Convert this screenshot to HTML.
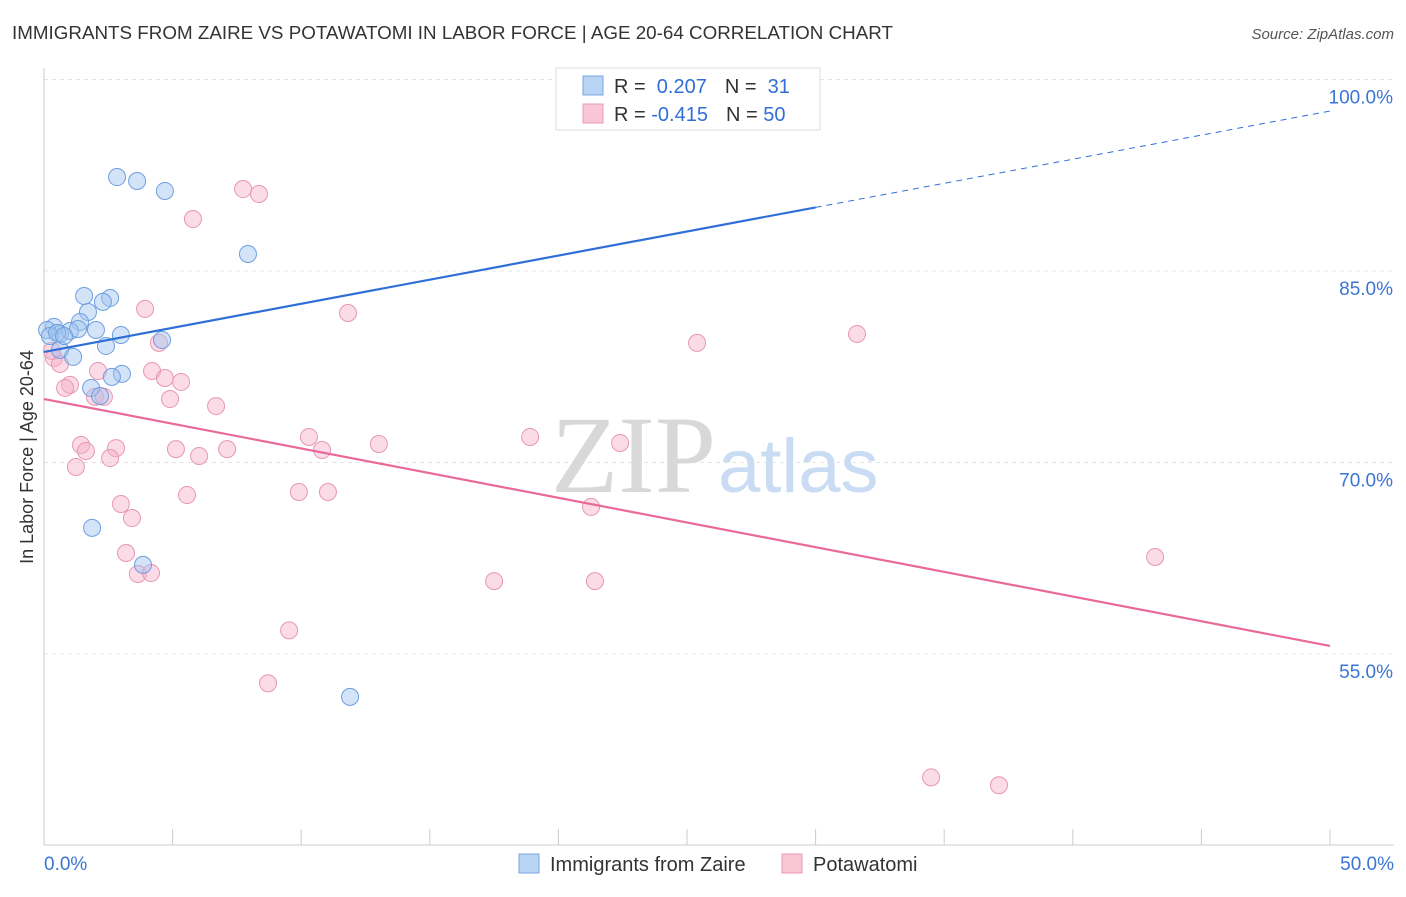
<!DOCTYPE html>
<html><head><meta charset="utf-8"><style>
body{margin:0;background:#fff;font-family:"Liberation Sans",sans-serif;}
svg text{font-family:"Liberation Sans",sans-serif;}
</style></head><body>
<svg width="1406" height="892" viewBox="0 0 1406 892">
<text x="12" y="39" font-size="18" fill="#333" textLength="881" lengthAdjust="spacingAndGlyphs">IMMIGRANTS FROM ZAIRE VS POTAWATOMI IN LABOR FORCE | AGE 20-64 CORRELATION CHART</text>
<text x="1394" y="39" font-size="15" fill="#555" font-style="italic" text-anchor="end">Source: ZipAtlas.com</text>
<g id="grid"></g>
<text x="716" y="492" font-size="110" fill="#d8d8d8" text-anchor="end" style="font-family:'Liberation Serif',serif">ZIP</text>
<text x="718" y="492" font-size="76" fill="#c9dcf3">atlas</text>
<g id="axes"></g>
<g id="marks"></g>
<text x="33" y="457" font-size="18" fill="#333" text-anchor="middle" transform="rotate(-90 33 457)">In Labor Force | Age 20-64</text>
<g>
<rect x="556" y="68" width="264" height="62" fill="#fff" stroke="#ddd"/>
<rect x="583" y="76" width="20" height="19" fill="#b9d3f5" stroke="#7aa6e3"/>
<rect x="583" y="104" width="20" height="19" fill="#f8c6d5" stroke="#eb9ab5"/>
<text x="614" y="93" font-size="20" fill="#333">R = <tspan fill="#2f6fd6">&#160;0.207</tspan><tspan dx="18">N = </tspan><tspan fill="#2f6fd6">&#160;31</tspan></text>
<text x="614" y="121" font-size="20" fill="#333">R = <tspan fill="#2f6fd6">-0.415</tspan><tspan dx="18">N = </tspan><tspan fill="#2f6fd6">50</tspan></text>
</g>
<g>
<rect x="519" y="854" width="20" height="19" fill="#b9d3f5" stroke="#7aa6e3"/>
<text x="550" y="871" font-size="20" fill="#333">Immigrants from Zaire</text>
<rect x="782" y="854" width="20" height="19" fill="#f8c6d5" stroke="#eb9ab5"/>
<text x="813" y="871" font-size="20" fill="#333">Potawatomi</text>
</g>
</svg>
<script>
const blueX=[2.84,3.62,4.70,7.93,1.56,2.57,2.29,1.71,1.40,0.39,0.12,0.62,1.01,1.32,2.02,2.99,4.59,2.41,0.62,1.13,3.03,2.64,1.83,2.18,1.87,3.85,11.90,25.70,0.23,0.51,0.78];
const blueY=[92.36,92.05,91.27,86.33,83.04,82.89,82.58,81.79,81.01,80.62,80.38,80.07,80.30,80.46,80.38,79.99,79.60,79.13,78.82,78.27,76.94,76.71,75.84,75.21,64.88,61.98,51.64,99.8,79.91,80.15,79.91];
const pinkX=[7.74,8.36,5.79,3.93,11.82,31.61,25.39,4.47,0.39,0.62,1.01,0.82,4.20,2.10,4.70,5.33,1.98,2.33,4.90,6.69,1.44,1.63,2.80,5.13,6.03,7.12,2.57,1.24,10.30,10.81,13.02,18.90,22.40,5.56,9.91,11.04,2.99,3.42,21.27,3.19,43.20,3.65,4.16,17.50,21.42,9.53,8.71,34.49,37.13,0.31];
const pinkY=[91.42,91.03,89.07,82.03,81.71,80.07,79.37,79.37,78.19,77.72,76.08,75.84,77.17,77.17,76.62,76.31,75.14,75.14,74.97,74.42,71.37,70.90,71.13,71.05,70.51,71.05,70.35,69.65,72.0,70.98,71.45,72.0,71.53,67.45,67.69,67.69,66.75,65.65,66.52,62.91,62.60,61.27,61.34,60.71,60.71,56.85,52.71,45.34,44.72,78.74];
const blueTrend=[0,78.66,50,97.53];
const pinkTrend=[0,74.97,50,55.63];
const yTicks=[100,85,70,55];
const xTickVals=[0,5,10,15,20,25,30,35,40,45,50];
const NS="http://www.w3.org/2000/svg";
const sx=v=>44+v*1286/50;
const sy=v=>79.5+(100-v)*191.5/15;
function mk(tag,attrs,parent){const e=document.createElementNS(NS,tag);for(const k in attrs)e.setAttribute(k,attrs[k]);parent.appendChild(e);return e;}
const grid=document.getElementById('grid'),axes=document.getElementById('axes'),marks=document.getElementById('marks');
yTicks.forEach(t=>{
 const l=mk('line',{x1:44,x2:1394,y1:sy(t),y2:sy(t),stroke:'#e4e4e4','stroke-dasharray':'4 4'},grid);
 
 
 const tx=mk('text',{x:1393,y:sy(t)+24,'font-size':19,fill:'#3b75d3','text-anchor':'end'},axes);
 tx.textContent=t.toFixed(1)+'%';
 
 
});
mk('line',{x1:44,x2:44,y1:68,y2:845,stroke:'#ccc'},axes);
mk('line',{x1:44,x2:1394,y1:845,y2:845,stroke:'#ccc'},axes);
xTickVals.forEach(t=>{
 const l=mk('line',{x1:sx(t),x2:sx(t),y1:829,y2:845,stroke:'#ccc'},axes);
 
 
});
[[0,'start',44],[50,'end',1394]].forEach(([v,a,x])=>{
 const tx=mk('text',{x:x,y:870,'font-size':19,fill:'#3b75d3','text-anchor':a},axes);
 tx.textContent=v.toFixed(1)+'%';
 
 
});
pinkX.forEach((x,i)=>{
 const c=mk('circle',{cx:sx(x),cy:sy(pinkY[i]),r:8.5,fill:'rgba(245,176,200,0.45)',stroke:'#e897b3','stroke-width':1},marks);
 
 
});
blueX.forEach((x,i)=>{
 const c=mk('circle',{cx:sx(x),cy:sy(blueY[i]),r:8.5,fill:'rgba(160,195,240,0.45)',stroke:'#6e9ee0','stroke-width':1},marks);
 
 
});
const bs=(blueTrend[3]-blueTrend[1])/(blueTrend[2]-blueTrend[0]);
const bMid=30;
const bl=mk('line',{x1:sx(blueTrend[0]),y1:sy(blueTrend[1]),x2:sx(bMid),y2:sy(blueTrend[1]+bs*bMid),stroke:'#2f6fd6','stroke-width':2.2},marks);


const bd=mk('line',{x1:sx(bMid),y1:sy(blueTrend[1]+bs*bMid),x2:sx(blueTrend[2]),y2:sy(blueTrend[3]),stroke:'#2f6fd6','stroke-width':1,'stroke-dasharray':'6 5'},marks);


const pl=mk('line',{x1:sx(pinkTrend[0]),y1:sy(pinkTrend[1]),x2:sx(pinkTrend[2]),y2:sy(pinkTrend[3]),stroke:'#e8699a','stroke-width':2.2},marks);


</script>
</body></html>
